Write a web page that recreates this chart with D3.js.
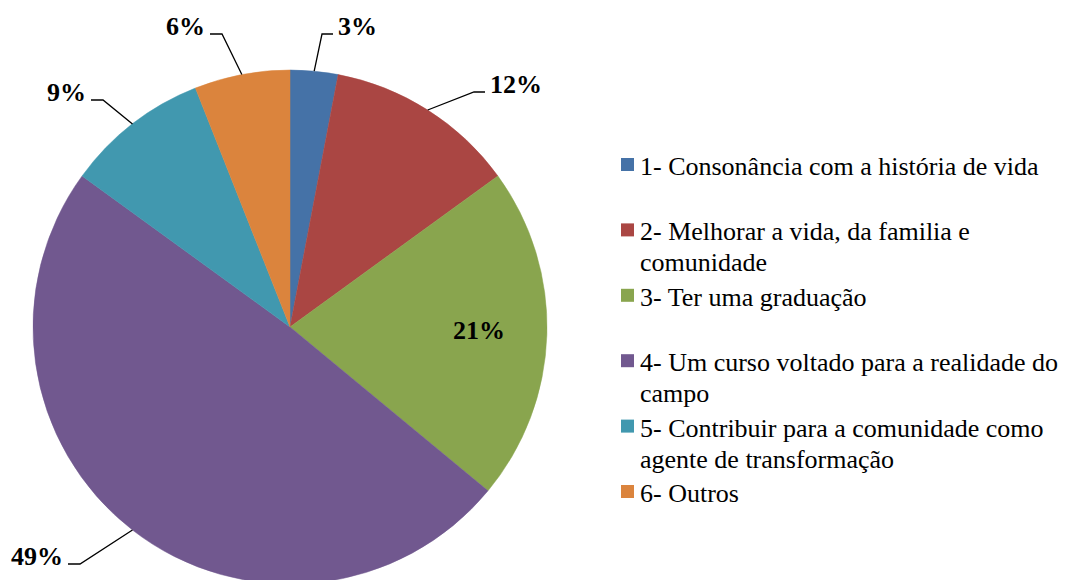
<!DOCTYPE html>
<html>
<head>
<meta charset="utf-8">
<script src="https://cdn.jsdelivr.net/npm/d3@7"></script>
<style>
  body { margin: 0; background: #fff; }
  svg { display: block; font-family: "Liberation Serif", "Times New Roman", serif; }
  svg text { font-family: "Liberation Serif", "Times New Roman", serif; }
</style>
</head>
<body>
<svg width="1070" height="580"></svg>
<script>
const categories = [
  "1- Consonância com a história de vida",
  "2- Melhorar a vida, da familia e comunidade",
  "3- Ter uma graduação",
  "4- Um curso voltado para a realidade do campo",
  "5- Contribuir para a comunidade como agente de transformação",
  "6- Outros"
];
const values = [3, 12, 21, 49, 9, 6];
const colors = ["#4572A7", "#AA4643", "#89A54E", "#71588F", "#4198AF", "#DB843D"];

const cx = 290;
const cy = 327;
const radius = 257;
const fontName = "Liberation Serif";

// where each label's leader ends (relative to pie centre); null = label inside slice
const labelEnds = [[43, -293], [195, -235], null, [-222, 237], [-199, -227], [-80, -293]];

const svg = d3.select("svg");
const total = d3.sum(values);

const pie = d3.pie().sort(null).value((d) => d);
const arcs = pie(values);
const arc = d3.arc().innerRadius(0).outerRadius(radius);

const g = svg.append("g").attr("transform", `translate(${cx}, ${cy})`);

g.selectAll("path")
  .data(arcs)
  .enter()
  .append("path")
  .attr("fill", (d) => colors[d.index])
  .attr("stroke", (d) => colors[d.index])
  .attr("stroke-width", 0.5)
  .attr("d", arc);

// labels
arcs.forEach((d) => {
  const pct = Math.round((100 * d.data) / total) + "%";
  const mid = (d.startAngle + d.endAngle) / 2;
  const end = labelEnds[d.index];
  let x, y, anchor;
  if (!end) {
    const c = d3.arc().innerRadius(radius * 0.5).outerRadius(radius * 1.05).centroid(d);
    x = c[0] - 10;
    y = c[1] + 6;
    anchor = "middle";
  } else {
    const p0 = [radius * Math.sin(mid), -radius * Math.cos(mid)];
    const right = end[0] > 0;
    const elbow = [end[0] + (right ? -11 : 12), end[1]];
    g.append("path")
      .attr("d", d3.line()([p0, elbow, end]))
      .attr("fill", "none")
      .attr("stroke", "#000")
      .attr("stroke-width", 1.3);
    x = end[0] + (right ? 5 : -5);
    y = end[1] + 1;
    anchor = right ? "start" : "end";
  }
  g.append("text")
    .datum(pct)
    .attr("x", x)
    .attr("y", y)
    .attr("text-anchor", anchor)
    .attr("font-family", fontName)
    .style("font-family", () => `"${fontName}"`)
    .style("font-weight", "bold")
    .style("font-size", "26px")
    .attr("fill", "#000")
    .text((t) => t);
});

// legend
const legendX = 621;
const legendY = 165;
const legendStep = 65.4;
const lineHeight = 31;
const maxTextWidth = 432;

// split a label into lines no wider than maxTextWidth
const measure = svg.append("text")
  .attr("font-family", fontName)
  .style("font-family", () => `"${fontName}"`)
  .style("font-size", "26px")
  .attr("visibility", "hidden");
function wrap(str) {
  const lines = [];
  let line = [];
  for (const w of str.split(" ")) {
    measure.text(line.concat(w).join(" "));
    if (measure.node().getComputedTextLength() > maxTextWidth && line.length) {
      lines.push(line.join(" "));
      line = [w];
    } else {
      line.push(w);
    }
  }
  lines.push(line.join(" "));
  return lines;
}

const legend = svg
  .append("g")
  .selectAll("g")
  .data(categories)
  .enter()
  .append("g")
  .attr("transform", (d, i) => `translate(${legendX}, ${legendY + i * legendStep})`);

legend
  .append("rect")
  .attr("x", 0)
  .attr("y", -7)
  .attr("width", 13)
  .attr("height", 13)
  .attr("fill", (d, i) => colors[i]);

legend.each(function (d) {
  d3.select(this)
    .selectAll("text")
    .data(wrap(d))
    .enter()
    .append("text")
    .attr("x", 19)
    .attr("y", (t, j) => 10 + j * lineHeight)
    .attr("font-family", fontName)
    .style("font-family", () => `"${fontName}"`)
    .style("font-size", "26px")
    .attr("fill", "#000")
    .text((t) => t);
});
measure.remove();
</script>
</body>
</html>
